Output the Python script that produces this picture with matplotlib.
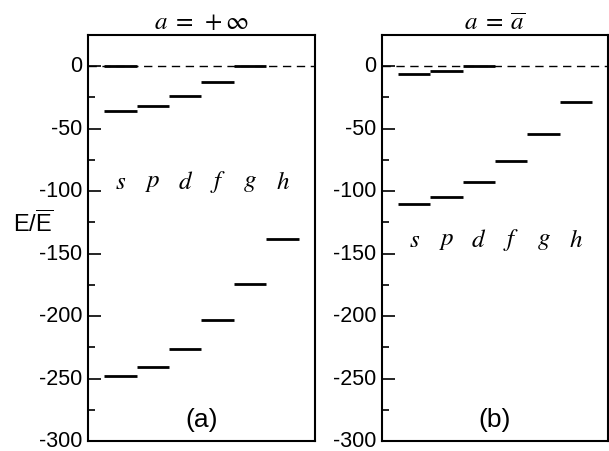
import numpy as np
import matplotlib
matplotlib.use("Agg")
import matplotlib.pyplot as plt
import matplotlib.transforms as mtransforms
from matplotlib.ticker import MultipleLocator

plt.rcParams['font.family'] = ['Liberation Sans', 'DejaVu Sans']
plt.rcParams['axes.unicode_minus'] = False
plt.rcParams['mathtext.fontset'] = 'stix'
plt.rcParams['mathtext.rm'] = 'Liberation Sans'

# orbital labels
orbitals = ['s', 'p', 'd', 'f', 'g', 'h']

# panel (a): a = +inf, energy levels E/Ebar
a_low = [-248, -241, -226, -203, -174, -138]
a_mid = [-36, -32, -24, -13, 0, np.nan]
a_top = [0, np.nan, np.nan, np.nan, np.nan, np.nan]

# panel (b): a = abar
b_low = [-110, -105, -93, -76, -54.5, -29]
b_top = [-6, -3.5, 0, np.nan, np.nan, np.nan]

titles = [r'$a\;=\;+\infty$', r'$a\;=\;\overline{a}$']
panel_tags = ['(a)', '(b)']
label_y = [-93, -139]

fig = plt.figure(figsize=(6.09, 4.51), dpi=100)
ax1 = fig.add_axes([88/609, 1-441/451, 227/609, 406/451])
ax2 = fig.add_axes([382/609, 1-441/451, 226/609, 406/451])

x = np.arange(len(orbitals))

def draw_panel(ax, series, title, tag, ly):
    ax.axhline(0, color='black', lw=1.0, ls=(0, (6, 4)), zorder=1)
    for levels in series:
        for i, e in enumerate(levels):
            if np.isnan(e):
                continue
            ax.hlines(e, x[i]-0.5, x[i]+0.5, color='black', lw=2.0, zorder=2)
    for i, name in enumerate(orbitals):
        ax.text(x[i], ly, '$' + name + '$', ha='center', va='center', fontsize=18)
    ax.text(2.5, -283, tag, ha='center', va='center', fontsize=19)
    ax.set_xlim(-1, 6)
    ax.set_ylim(-300, 25)
    ax.set_xticks([])
    ax.yaxis.set_major_locator(MultipleLocator(50))
    ax.yaxis.set_minor_locator(MultipleLocator(25))
    ax.tick_params(axis='y', which='major', direction='in', length=9, width=1.2,
                   labelsize=15.5, pad=4)
    ax.tick_params(axis='y', which='minor', direction='in', length=5, width=1.2)
    # nudge labels up a little so the bottom one stays inside the figure
    shift = mtransforms.ScaledTranslation(0, 2/100, fig.dpi_scale_trans)
    for lab in ax.get_yticklabels():
        lab.set_transform(lab.get_transform() + shift)
    for sp in ax.spines.values():
        sp.set_linewidth(1.5)
    ax.set_title(title, fontsize=18, pad=4)

draw_panel(ax1, [a_low, a_mid, a_top], titles[0], panel_tags[0], label_y[0])
draw_panel(ax2, [b_low, b_top], titles[1], panel_tags[1], label_y[1])

fig.text(33/609, 1-224/451, r'$\mathrm{E/\overline{E}}$', ha='center', va='center',
         fontsize=17, math_fontfamily='custom')

fig.savefig('out.png', dpi=100)
